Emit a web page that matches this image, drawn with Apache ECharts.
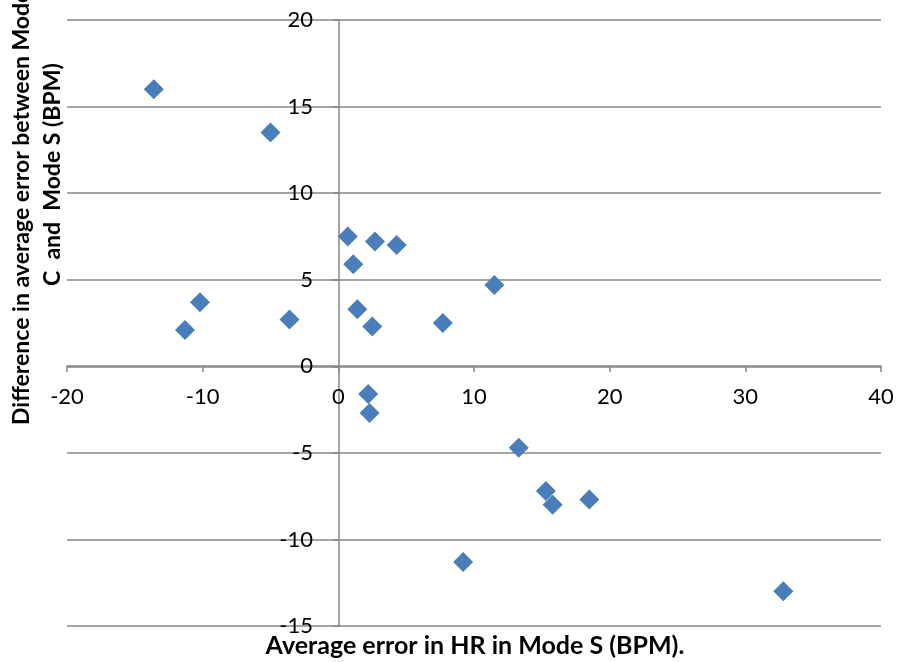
<!DOCTYPE html>
<html><head><meta charset="utf-8">
<script src="https://cdn.jsdelivr.net/npm/echarts@6/dist/echarts.min.js"></script>
<style>html,body{margin:0;padding:0;background:#fff}#c{width:899px;height:662px}</style>
</head><body><div id="c"></div>
<script>
const xValues = [-13.6, -5.0, 0.7, 2.7, 4.3, 1.1, 11.5, -10.2, 1.4, -3.6, 2.5, 7.7, -11.3, 2.2, 2.3, 13.3, 15.3, 15.8, 18.5, 9.2, 32.8];
const yValues = [16.0, 13.5, 7.5, 7.2, 7.0, 5.9, 4.7, 3.7, 3.3, 2.7, 2.3, 2.5, 2.1, -1.6, -2.7, -4.7, -7.2, -8.0, -7.7, -11.3, -13.0];
const xTitle = 'Average error in HR in Mode S (BPM).';
const yTitle1 = 'Difference in average error between Mode';
const yTitle2 = 'C  and  Mode S (BPM)';

const FONT = 'Lato, "Open Sans", sans-serif';
const chart = echarts.init(document.getElementById('c'), null, {renderer: 'canvas'});
const axisGray = '#868686';
// grid: left 67, right 881, top 20, bottom 626; zero lines at x=339, y=366
chart.setOption({
  animation: false,
  grid: {left: 67, right: 18, top: 20, bottom: 36, containLabel: false},
  xAxis: {
    type: 'value', min: -20, max: 40, interval: 10,
    offset: -260,
    axisLine: {show: true, onZero: false, lineStyle: {color: axisGray, width: 1.5}},
    axisTick: {show: true, length: 6, lineStyle: {color: axisGray, width: 1.5}},
    axisLabel: {color: '#000', fontSize: 22, fontFamily: FONT, margin: 20},
    splitLine: {show: false}
  },
  yAxis: {
    type: 'value', min: -15, max: 20, interval: 5,
    offset: -272,
    axisLine: {show: true, onZero: false, lineStyle: {color: axisGray, width: 1.5}},
    axisTick: {show: true, length: 6, lineStyle: {color: axisGray, width: 1.5}},
    axisLabel: {color: '#000', fontSize: 22, fontFamily: FONT, margin: 26},
    splitLine: {show: true, lineStyle: {color: axisGray, width: 1.5}}
  },
  series: [{
    type: 'scatter',
    data: xValues.map((x, i) => [x, yValues[i]]),
    symbol: 'diamond', symbolSize: 20,
    itemStyle: {color: '#4A7EBB', opacity: 1}
  }],
  graphic: [
    {type: 'text', x: 475, y: 646, style: {text: xTitle, font: 'bold 25px ' + FONT, fill: '#000', textAlign: 'center', textVerticalAlign: 'middle'}},
    {type: 'text', x: 22, y: 425, rotation: Math.PI / 2, style: {text: yTitle1, font: 'bold 23px ' + FONT, fill: '#000', textAlign: 'left', textVerticalAlign: 'middle'}},
    {type: 'text', x: 53, y: 286, rotation: Math.PI / 2, style: {text: yTitle2, font: 'bold 23px ' + FONT, fill: '#000', textAlign: 'left', textVerticalAlign: 'middle'}}
  ]
});
</script></body></html>
